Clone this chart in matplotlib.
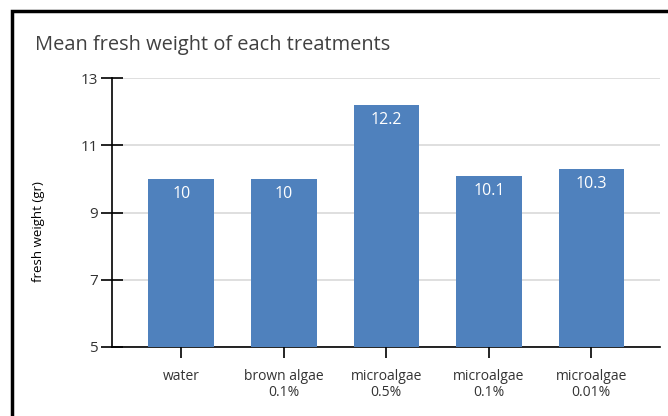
import numpy as np
import matplotlib
matplotlib.use("Agg")
import matplotlib.pyplot as plt
from matplotlib.patches import Rectangle

categories = ["water", "brown algae\n0.1%", "microalgae\n0.5%", "microalgae\n0.1%", "microalgae\n0.01%"]
values = [10, 10, 12.2, 10.1, 10.3]
labels = ["10", "10", "12.2", "10.1", "10.3"]
yticks = [5, 7, 9, 11, 13]

plt.rcParams['font.family'] = ['Open Sans', 'DejaVu Sans']

fig = plt.figure(figsize=(6.68, 4.16), dpi=100)
ax = fig.add_axes([112/668, 1 - 347/416, (660 - 112)/668, (347 - 78)/416])

x = np.arange(len(categories))
ax.bar(x, values, width=0.64, bottom=0, color="#4F81BD", zorder=3)
for xi, v, lab in zip(x, values, labels):
    ax.text(xi, v - 0.46, lab, color="white", ha="center", va="center", fontsize=11.5, zorder=4)

ax.set_ylim(5, 13)
ax.set_xlim(-0.676, 4.67)
ax.set_yticks(yticks)
ax.set_xticks(x)
ax.set_xticklabels(categories, fontsize=10, color="#333333", linespacing=1.05)
ax.tick_params(axis="y", labelsize=11, colors="black", direction="inout", length=16, width=1.2, labelcolor="#333333", pad=2)
ax.tick_params(axis="x", direction="inout", length=16, width=1.2, pad=8)
ax.grid(axis="y", color="#d9d9d9", linewidth=1.2, zorder=0)
for s in ["top", "right"]:
    ax.spines[s].set_visible(False)
ax.spines["left"].set_linewidth(1.2)
ax.spines["bottom"].set_linewidth(1.2)

fig.text(38.5/668, 1 - 232/416, "fresh weight (gr)", fontsize=9.5, rotation=90, color="black", va="center", ha="center")
fig.text(35/668, 1 - 45/416, "Mean fresh weight of each treatments", fontsize=14.4, color="#404040", va="center", ha="left")

# outer border of the chart area
fig.add_artist(Rectangle((12/668, -0.1), 1.0, 1 - 11/416 + 0.1, transform=fig.transFigure,
                         fill=False, edgecolor="black", linewidth=2.5))

fig.savefig("out.png", dpi=100)
